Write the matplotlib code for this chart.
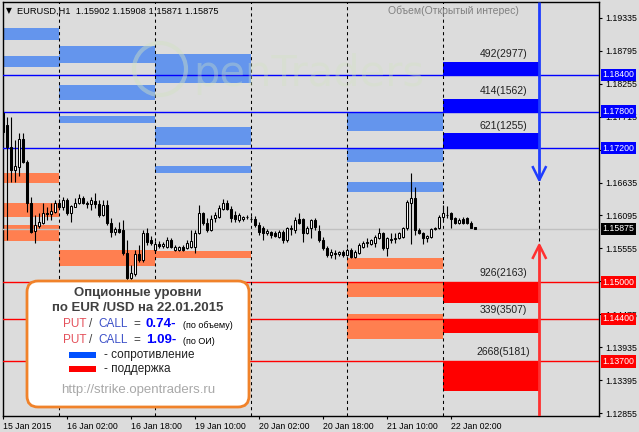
import matplotlib
matplotlib.use('Agg')
import matplotlib.pyplot as plt
import matplotlib.transforms as mtransforms
from matplotlib.patches import FancyBboxPatch, Rectangle, Circle
import numpy as np

plt.rcParams['font.family'] = ['Liberation Sans', 'DejaVu Sans']

# EURUSD H1 candles, bar 0 = 15 Jan 10:00, last bar = 22 Jan 08:00
opens = [
    1.17776, 1.17579, 1.17218, 1.16841, 1.16890, 1.17349, 1.16972, 1.16300, 1.15841, 1.15923,
    1.15972, 1.16136, 1.16119, 1.16152, 1.16300, 1.16234, 1.16349, 1.16136, 1.16234, 1.16300,
    1.16382, 1.16300, 1.16283, 1.16333, 1.16283, 1.16103, 1.16267, 1.15972, 1.15824, 1.15873,
    1.15857, 1.15480, 1.15070, 1.15135, 1.15463, 1.15365, 1.15808, 1.15693, 1.15529, 1.15627,
    1.15595, 1.15578, 1.15693, 1.15529, 1.15529, 1.15578, 1.15562, 1.15578, 1.15578, 1.15808,
    1.16136, 1.15972, 1.15857, 1.16054, 1.16070, 1.16201, 1.16300, 1.16201, 1.16103, 1.16021,
    1.16037, 1.16070, 1.16037, 1.16037, 1.15939, 1.15890, 1.15808, 1.15824, 1.15808, 1.15742,
    1.15824, 1.15693, 1.15873, 1.15857, 1.16037, 1.16037, 1.15808, 1.15890, 1.16021, 1.15841,
    1.15693, 1.15562, 1.15447, 1.15480, 1.15463, 1.15496, 1.15447, 1.15529, 1.15414, 1.15480,
    1.15578, 1.15644, 1.15627, 1.15644, 1.15726, 1.15808, 1.15562, 1.15693, 1.15709, 1.15726,
    1.15742, 1.15890, 1.16300, 1.16382, 1.15857, 1.15808, 1.15726, 1.15742, 1.15873, 1.15890,
    1.16070, 1.16103, 1.16136, 1.16054, 1.15972, 1.16037, 1.16054, 1.15972, 1.15902]
highs = [
    1.17825, 1.17710, 1.17710, 1.17333, 1.17448, 1.17448, 1.17005, 1.16398, 1.16103, 1.16136,
    1.16300, 1.16234, 1.16300, 1.16349, 1.16365, 1.16398, 1.16382, 1.16267, 1.16382, 1.16447,
    1.16415, 1.16333, 1.16398, 1.16464, 1.16349, 1.16349, 1.16349, 1.16054, 1.15906, 1.15988,
    1.16021, 1.15693, 1.15283, 1.15529, 1.15611, 1.15857, 1.15890, 1.15759, 1.15677, 1.15677,
    1.15660, 1.15742, 1.15726, 1.15611, 1.15595, 1.15611, 1.15693, 1.15857, 1.15857, 1.16267,
    1.16152, 1.16054, 1.16103, 1.16152, 1.16267, 1.16365, 1.16349, 1.16251, 1.16169, 1.16136,
    1.16087, 1.16103, 1.16087, 1.16087, 1.15988, 1.15923, 1.15873, 1.15841, 1.15841, 1.15857,
    1.15857, 1.15906, 1.15939, 1.16070, 1.16136, 1.16054, 1.15923, 1.16037, 1.16054, 1.15939,
    1.15742, 1.15595, 1.15545, 1.15529, 1.15513, 1.15529, 1.15562, 1.15562, 1.15529, 1.15644,
    1.15677, 1.15726, 1.15709, 1.15775, 1.15890, 1.15824, 1.15742, 1.15808, 1.15808, 1.15824,
    1.15906, 1.16349, 1.16792, 1.16562, 1.15890, 1.15824, 1.15775, 1.15890, 1.15906, 1.16103,
    1.16267, 1.16251, 1.16152, 1.16070, 1.16054, 1.16070, 1.16070, 1.16005, 1.15908]
lows = [
    1.17415, 1.15693, 1.16644, 1.16644, 1.16743, 1.16956, 1.16152, 1.15808, 1.15644, 1.15890,
    1.15955, 1.16021, 1.16021, 1.16136, 1.16201, 1.16185, 1.16103, 1.15988, 1.16234, 1.16283,
    1.16283, 1.16218, 1.16185, 1.16218, 1.16070, 1.16087, 1.15939, 1.15742, 1.15775, 1.15808,
    1.15447, 1.15037, 1.15037, 1.15103, 1.15332, 1.15332, 1.15611, 1.15611, 1.15496, 1.15562,
    1.15562, 1.15562, 1.15562, 1.15513, 1.15513, 1.15513, 1.15545, 1.15562, 1.15480, 1.15791,
    1.15939, 1.15824, 1.15841, 1.15988, 1.16054, 1.16185, 1.16185, 1.15988, 1.15988, 1.15988,
    1.16005, 1.16037, 1.16005, 1.15906, 1.15775, 1.15693, 1.15775, 1.15726, 1.15742, 1.15726,
    1.15644, 1.15660, 1.15775, 1.15808, 1.15955, 1.15660, 1.15791, 1.15726, 1.15857, 1.15660,
    1.15529, 1.15414, 1.15398, 1.15381, 1.15431, 1.15414, 1.15431, 1.15398, 1.15398, 1.15463,
    1.15562, 1.15578, 1.15611, 1.15578, 1.15709, 1.15529, 1.15431, 1.15644, 1.15644, 1.15709,
    1.15726, 1.15857, 1.15627, 1.15775, 1.15791, 1.15627, 1.15660, 1.15726, 1.15857, 1.15873,
    1.16021, 1.16054, 1.15890, 1.15955, 1.15955, 1.15955, 1.15955, 1.15890, 1.15871]
closes = [
    1.17464, 1.17218, 1.16841, 1.16907, 1.17349, 1.16972, 1.16300, 1.15824, 1.15939, 1.15988,
    1.16136, 1.16119, 1.16169, 1.16300, 1.16234, 1.16349, 1.16136, 1.16251, 1.16300, 1.16382,
    1.16300, 1.16283, 1.16349, 1.16283, 1.16103, 1.16267, 1.15972, 1.15824, 1.15873, 1.15824,
    1.15480, 1.15070, 1.15152, 1.15463, 1.15365, 1.15808, 1.15660, 1.15644, 1.15627, 1.15595,
    1.15627, 1.15693, 1.15578, 1.15578, 1.15578, 1.15529, 1.15644, 1.15677, 1.15808, 1.16136,
    1.15972, 1.15857, 1.16037, 1.16103, 1.16218, 1.16300, 1.16201, 1.16054, 1.16037, 1.16103,
    1.16070, 1.16068, 1.16037, 1.15939, 1.15824, 1.15808, 1.15841, 1.15775, 1.15759, 1.15824,
    1.15693, 1.15890, 1.15890, 1.16021, 1.15972, 1.15808, 1.15890, 1.16021, 1.15906, 1.15693,
    1.15562, 1.15447, 1.15496, 1.15463, 1.15496, 1.15447, 1.15529, 1.15414, 1.15496, 1.15611,
    1.15644, 1.15660, 1.15693, 1.15742, 1.15808, 1.15562, 1.15726, 1.15709, 1.15726, 1.15808,
    1.15890, 1.16316, 1.16382, 1.15857, 1.15808, 1.15726, 1.15759, 1.15873, 1.15890, 1.16070,
    1.16136, 1.16100, 1.16037, 1.15972, 1.16021, 1.15972, 1.15972, 1.15890, 1.15875]

last_price = 1.15875

x_tick_bars = [0, 16, 32, 48, 64, 80, 96, 112]
x_tick_labels = ['15 Jan 2015', '16 Jan 02:00', '16 Jan 18:00', '19 Jan 10:00',
                 '20 Jan 02:00', '20 Jan 18:00', '21 Jan 10:00', '22 Jan 02:00']
y_ticks = [1.19335, 1.18795, 1.18255, 1.17715, 1.17175, 1.16635, 1.16095,
           1.15555, 1.15015, 1.14475, 1.13935, 1.13395, 1.12855]
# labels fully covered by the level boxes in the terminal
y_hidden = [1.17175, 1.15015]

# day columns: bar index of 00:00 for each trading day
days = ['15 Jan', '16 Jan', '19 Jan', '20 Jan', '21 Jan', '22 Jan']
day_start = [-10, 14, 38, 62, 86, 110]

# option zones of earlier days (low, high)
old_resist = {
    '15 Jan': [(1.18974, 1.19171), (1.18531, 1.18711)],
    '16 Jan': [(1.18601, 1.18875), (1.17990, 1.18236), (1.17617, 1.17732)],
    '19 Jan': [(1.18268, 1.18744), (1.17251, 1.17547), (1.16797, 1.16912)],
    '20 Jan': [],
    '21 Jan': [(1.17486, 1.17798), (1.16977, 1.17181), (1.16485, 1.16649)],
}
old_support = {
    '15 Jan': [(1.16633, 1.16797), (1.16075, 1.16305), (1.15677, 1.15939)],
    '16 Jan': [(1.15267, 1.15529)],
    '19 Jan': [(1.15403, 1.15513)],
    '20 Jan': [],
    '21 Jan': [(1.15212, 1.15393), (1.14763, 1.14993), (1.14074, 1.14479)],
}

# today's levels (22 Jan)
res_levels = [1.18400, 1.17800, 1.17200]
res_tops = [1.18618, 1.18006, 1.17443]
res_text = ['492(2977)', '414(1562)', '621(1255)']
sup_levels = [1.15000, 1.14400, 1.13700]
sup_bottoms = [1.14665, 1.14172, 1.13221]
sup_text = ['926(2163)', '339(3507)', '2668(5181)']

bg = '#dcdcdc'
fig = plt.figure(figsize=(6.39, 4.32), dpi=100, facecolor=bg)
ax = fig.add_axes([3 / 639, 16 / 432, 596 / 639, 414 / 432], facecolor=bg)
ax.set_xlim(-0.075, 148.925)
ax.set_ylim(1.12806, 1.19597)

# old zones
for d, s in zip(days, day_start):
    for lo, hi in old_resist.get(d, []):
        ax.bar(s, hi - lo, bottom=lo, width=24, align='edge', color='#6495ed', lw=0, zorder=2)
    for lo, hi in old_support.get(d, []):
        ax.bar(s, hi - lo, bottom=lo, width=24, align='edge', color='#ff7f50', lw=0, zorder=2)

# today's zones
today = day_start[-1]
for lvl, top, t in zip(res_levels, res_tops, res_text):
    ax.bar(today, top - lvl, bottom=lvl, width=24, align='edge', color='#0000ff', lw=0, zorder=2)
    ax.axhline(lvl, color='#0000ff', lw=1, zorder=3)
    ax.annotate(t, (today + 15, top), xytext=(0, 2), textcoords='offset points',
                ha='center', va='bottom', fontsize=7.5, color='#202020', zorder=6)
for lvl, bot, t in zip(sup_levels, sup_bottoms, sup_text):
    ax.bar(today, lvl - bot, bottom=bot, width=24, align='edge', color='#ff0000', lw=0, zorder=2)
    ax.axhline(lvl, color='#ff0000', lw=1, zorder=3)
    ax.annotate(t, (today + 15, lvl), xytext=(0, 3), textcoords='offset points',
                ha='center', va='bottom', fontsize=7.5, color='#202020', zorder=6)

# day separators
for s in day_start[1:] + [day_start[-1] + 24]:
    ax.axvline(s, color='black', lw=0.75, ls=(0, (3, 3)), zorder=3)

ax.axhline(last_price, color='#c0c0c0', lw=1, zorder=3)

# candles
o = np.array(opens)
h = np.array(highs)
l = np.array(lows)
c = np.array(closes)
x = np.arange(len(o))
up = c >= o
ax.vlines(x, l, h, color='black', lw=0.8, zorder=4)
body_lo = np.minimum(o, c)
body_h = np.maximum(np.abs(c - o), 0.00002)
ax.bar(x[up], body_h[up], bottom=body_lo[up], width=0.5, color='white',
       edgecolor='black', lw=0.75, zorder=5)
ax.bar(x[~up], body_h[~up], bottom=body_lo[~up], width=0.5, color='black',
       edgecolor='black', lw=0.75, zorder=5)

# arrows at the end of today's column
xa = day_start[-1] + 24
top, bottom = ax.get_ylim()[1], ax.get_ylim()[0]
tip_dn, tip_up = 1.16677, 1.15611
ax.plot([xa, xa], [top, tip_dn], color='#1e3cff', lw=2, zorder=6, solid_capstyle='butt')
ax.plot([xa - 1.6, xa, xa + 1.6], [tip_dn + 0.0021, tip_dn, tip_dn + 0.0021], color='#1e3cff', lw=1.8, zorder=6)
ax.plot([xa, xa], [bottom, tip_up], color='#ff3030', lw=2, zorder=6, solid_capstyle='butt')
ax.plot([xa - 1.6, xa, xa + 1.6], [tip_up - 0.0021, tip_up, tip_up - 0.0021], color='#ff3030', lw=1.8, zorder=6)

# axes
for sp in ax.spines.values():
    sp.set_color('black')
    sp.set_linewidth(1)
ax.yaxis.tick_right()
ax.set_yticks(y_ticks)
ax.set_yticklabels(['' if v in y_hidden else f'{v:.5f}' for v in y_ticks])
ax.tick_params(axis='y', direction='out', length=2.5, width=0.8, labelsize=6.3, pad=2)
ax.set_xticks(x_tick_bars)
ax.set_xticklabels(x_tick_labels, ha='left')
ax.tick_params(axis='x', direction='out', length=2.5, width=0.8, labelsize=6.3, pad=1.5)

trans = mtransforms.blended_transform_factory(ax.transAxes, ax.transData)
for lvl in res_levels:
    ax.text(1.006, lvl, f'{lvl:.5f}', transform=trans, ha='left', va='center', fontsize=6.3,
            color='white', bbox=dict(boxstyle='square,pad=0.2', fc='#0000ff', ec='none'),
            clip_on=False, zorder=7)
for lvl in sup_levels:
    ax.text(1.006, lvl, f'{lvl:.5f}', transform=trans, ha='left', va='center', fontsize=6.3,
            color='white', bbox=dict(boxstyle='square,pad=0.2', fc='#ff0000', ec='none'),
            clip_on=False, zorder=7)
ax.text(1.006, last_price, f'{last_price:.5f}', transform=trans, ha='left', va='center', fontsize=6.3,
        color='white', bbox=dict(boxstyle='square,pad=0.2', fc='black', ec='none'),
        clip_on=False, zorder=7)

# overlay in pixel units
ov = fig.add_axes([0, 0, 1, 1], zorder=5)
ov.set_xlim(0, 639)
ov.set_ylim(432, 0)
ov.axis('off')

# watermark
ov.add_patch(Circle((160, 69), 26, fill=False, ec='#d2e2c2', lw=3, alpha=0.45))
ov.text(193, 86, 'penTraders', fontsize=30, color='#d2e4c0', alpha=0.35, va='baseline',
        family='DejaVu Sans')

ov.text(6, 11, '\u25bc', fontsize=5.5, va='center', color='black', family='DejaVu Sans')
ov.text(17, 11, 'EURUSD,H1  1.15902 1.15908 1.15871 1.15875', fontsize=6.7, va='center', color='black')
ov.text(388, 11, 'Объем(Открытый интерес)', fontsize=7.5, va='center', color='#808080')

# info box
ov.add_patch(FancyBboxPatch((27, 281), 222, 126, boxstyle='round,pad=0,rounding_size=11',
                            fc='white', ec='#f0822a', lw=2))
ov.text(138, 293, 'Опционные уровни', ha='center', va='center', fontsize=9.5,
        fontweight='bold', color='#404040')
ov.text(138, 308, 'по EUR /USD на 22.01.2015', ha='center', va='center', fontsize=9.5,
        fontweight='bold', color='#404040')
for yy, val, note in [(324, '0.74-', '(по объему)'), (340, '1.09-', '(по ОИ)')]:
    ov.text(63, yy, 'PUT', fontsize=8.5, va='center', color='#e4505a')
    ov.text(89, yy, '/', fontsize=8.5, va='center', color='#404040')
    ov.text(98, yy, 'CALL', fontsize=8.5, va='center', color='#3c50c8')
    ov.text(133, yy, '=', fontsize=8.5, va='center', color='#404040')
    ov.text(146, yy, val, fontsize=9.5, va='center', color='#0000ff', fontweight='bold')
    ov.text(183, yy + 1, note, fontsize=6.5, va='center', color='black')
ov.add_patch(Rectangle((69, 352), 27, 6, fc='#0050ff', ec='none'))
ov.text(104, 355, '- сопротивление', fontsize=8.5, va='center', color='#202020')
ov.add_patch(Rectangle((69, 366), 27, 6, fc='#ff0000', ec='none'))
ov.text(104, 369, '- поддержка', fontsize=8.5, va='center', color='#202020')
ov.text(138, 390, 'http://strike.opentraders.ru', ha='center', va='center', fontsize=9.5,
        color='#a8a8a8')

fig.savefig('out.png', dpi=100, facecolor=bg)
